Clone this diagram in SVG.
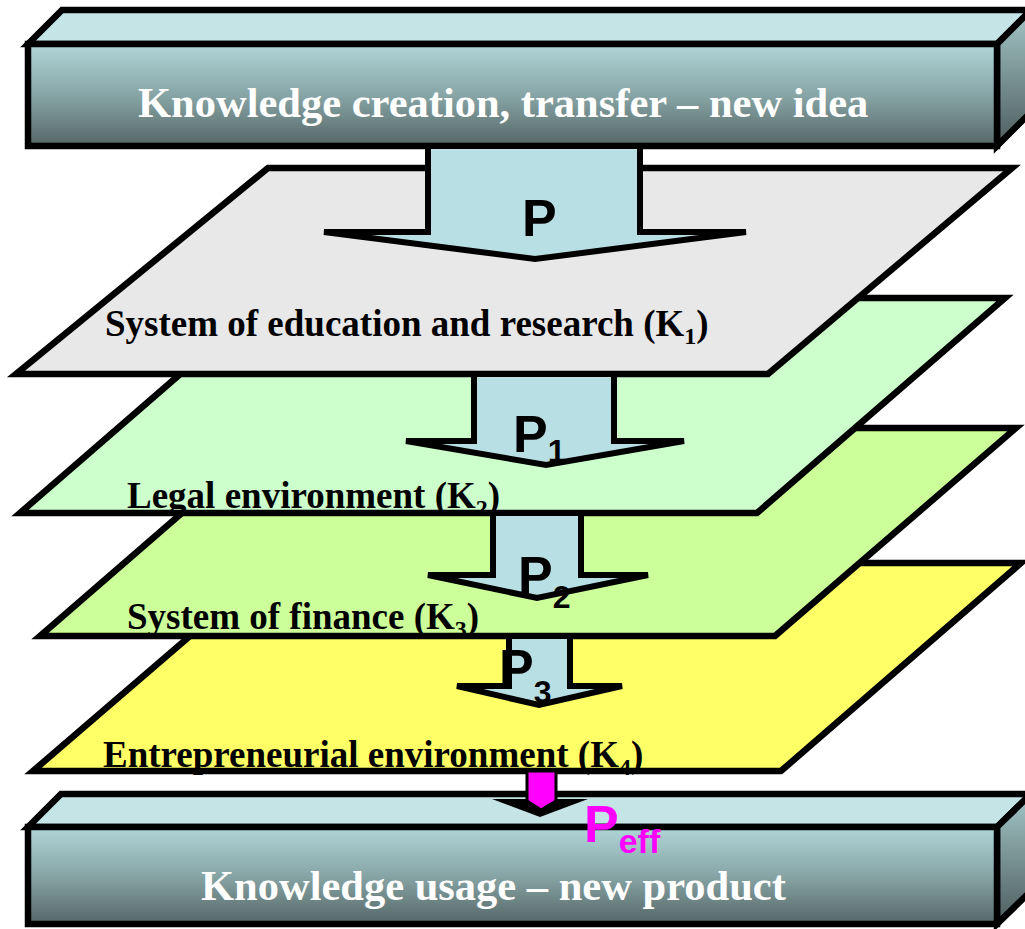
<svg xmlns="http://www.w3.org/2000/svg" width="1025" height="929" viewBox="0 0 1025 929">
<defs>
<linearGradient id="front" x1="0" y1="0" x2="0" y2="1">
<stop offset="0" stop-color="#b0d6d8"/>
<stop offset="0.5" stop-color="#87a5a6"/>
<stop offset="1" stop-color="#566666"/>
</linearGradient>
<linearGradient id="side" x1="0" y1="0" x2="0" y2="1">
<stop offset="0" stop-color="#a3c6c8"/>
<stop offset="1" stop-color="#4e5d5d"/>
</linearGradient>
<style>
.ln{stroke:#000;stroke-width:6.5;stroke-linejoin:miter;stroke-miterlimit:10}
.top{fill:#c4e4e6}
.fr{fill:url(#front)}
.sd{fill:url(#side)}
.btxt{font-family:"Liberation Serif","Times New Roman",serif;font-weight:bold;font-size:42.5px;fill:#fff}
.ltxt{font-family:"Liberation Serif","Times New Roman",serif;font-weight:bold;font-size:37px;fill:#000}
.sub{font-size:24px}
.arr{fill:#b8dfe3;stroke:#000;stroke-width:6;stroke-linejoin:miter;stroke-miterlimit:3}
.ptxt{font-family:"Liberation Sans",Arial,sans-serif;font-weight:bold;font-size:52px;fill:#000}
.psub{font-size:32px}
</style>
</defs>

<g id="layer4">
<polygon class="ln" fill="#ffff66" points="275,563 1021,563 781,771 33,771"/>
<text class="ltxt" x="103" y="767">Entrepreneurial environment (K<tspan class="sub" dy="8">4</tspan><tspan dy="-8">)</tspan></text>
</g>
<g id="layer3">
<polygon class="ln" fill="#ccff99" points="280,428 1016,428 775,636 40,636"/>
<text class="ltxt" x="127" y="629">System of finance (K<tspan class="sub" dy="8">3</tspan><tspan dy="-8">)</tspan></text>
</g>
<g id="layer2">
<polygon class="ln" fill="#ccffcc" points="268,298 1005,298 757,513 20,513"/>
<text class="ltxt" x="127" y="508">Legal environment (K<tspan class="sub" dy="8">2</tspan><tspan dy="-8">)</tspan></text>
</g>
<g id="layer1">
<polygon class="ln" fill="#e8e8e8" points="268,168 1012,168 768,374 16,374"/>
<text class="ltxt" x="105" y="336">System of education and research (K<tspan class="sub" dy="8">1</tspan><tspan dy="-8">)</tspan></text>
</g>

<g id="box-top">
<polygon class="ln top" points="28,44 62,10 1031,10 997,44"/>
<polygon class="ln sd" points="997,44 1031,10 1031,112 997,146"/>
<rect class="ln fr" x="28" y="44" width="969" height="102"/>
<text class="btxt" x="138" y="117">Knowledge creation, transfer – new idea</text>
</g>

<g id="box-bottom">
<polygon class="ln top" points="28,827 61,794 1031,794 997,827"/>
<polygon class="ln sd" points="997,827 1031,794 1031,891 997,924"/>
<rect class="ln fr" x="28" y="827" width="969" height="97"/>
<text class="btxt" x="201" y="900">Knowledge usage – new product</text>
</g>

<g id="connectors">
<polygon class="arr" points="428,146 640,146 640,232 746,232 535,259 324,232 428,232"/>
<polygon class="arr" points="474,374 614,374 614,441 684,441 546,465 406,441 474,441"/>
<polygon class="arr" points="493,513 581,513 581,575 648,575 537,598 428,575 493,575"/>
<polygon class="arr" points="509,636 570,636 570,686 622,686 539,705 457,686 509,686"/>
<polygon fill="#000" points="492,799 588,799 540,817"/>
<polygon fill="#ff00ff" stroke="#000" stroke-width="3" points="527,771 556,771 556,801 541,810 527,801"/>
</g>

<g id="labels">
<text class="ptxt" x="522" y="236">P</text>
<text class="ptxt" x="513" y="452">P<tspan class="psub" dy="10">1</tspan></text>
<text class="ptxt" x="518" y="593">P<tspan class="psub" dy="15">2</tspan></text>
<text class="ptxt" x="499" y="686">P<tspan class="psub" dy="17">3</tspan></text>
<text class="ptxt" x="584" y="842" style="fill:#ff00ff">P<tspan style="font-size:34px" dy="11">eff</tspan></text>
</g>
</svg>
